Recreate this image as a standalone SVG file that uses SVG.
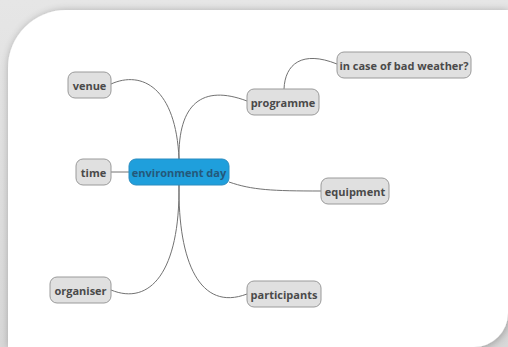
<svg xmlns="http://www.w3.org/2000/svg" width="508" height="347" viewBox="0 0 508 347">
<defs>
<linearGradient id="bg" x1="0" y1="0" x2="0" y2="1">
<stop offset="0" stop-color="#e6e6e6"/>
<stop offset="1" stop-color="#d8d8d8"/>
</linearGradient>
<filter id="sh" x="-10%" y="-10%" width="120%" height="120%">
<feGaussianBlur in="SourceAlpha" stdDeviation="4"/>
<feOffset dx="1" dy="1"/>
<feComponentTransfer><feFuncA type="linear" slope="0.3"/></feComponentTransfer>
<feMerge><feMergeNode/><feMergeNode in="SourceGraphic"/></feMerge>
</filter>
<style>
.n rect{fill:#e0e0e0;stroke:#9a9a9a;stroke-width:1}
.n text{font-family:"Open Sans","DejaVu Sans",sans-serif;font-weight:bold;font-size:11px;fill:#4a4a4a;text-anchor:middle;dominant-baseline:central}
#center rect{fill:#1f9fdc;stroke:#2a8cc0}
#center text{fill:#24587a}
.c path{fill:none;stroke:#727272;stroke-width:1}
</style>
</defs>
<rect width="508" height="347" fill="url(#bg)"/>
<path d="M8,68 A58,58 0 0 1 66,10 L508,10 L508,313 A34,34 0 0 1 474,347 L8,347 Z" fill="#ffffff" filter="url(#sh)"/>
<g class="c">
<path d="M111,84 C142,70 176,88 179,159"/>
<path d="M179,159 C178,104 202,84 247,101"/>
<path d="M111,172 L129,172"/>
<path d="M229,182 C252,190 272,191 321,191"/>
<path d="M179,185 C180,272 150,306 111,290"/>
<path d="M179,185 C178,262 200,312 247,294"/>
<path d="M284,89 C285,64 302,50 337,64"/>
</g>
<g id="venue" class="n"><rect x="68" y="72" width="43" height="26" rx="7"/><text x="89.5" y="85">venue</text></g>
<g id="time" class="n"><rect x="76" y="159" width="35" height="26" rx="7"/><text x="93.5" y="172">time</text></g>
<g id="center" class="n"><rect x="129" y="159" width="100" height="26" rx="7"/><text x="179" y="172">environment day</text></g>
<g id="programme" class="n"><rect x="247" y="89" width="72" height="26" rx="7"/><text x="283" y="102">programme</text></g>
<g id="weather" class="n"><rect x="337" y="52" width="134" height="26" rx="7"/><text x="404" y="65">in case of bad weather?</text></g>
<g id="equipment" class="n"><rect x="321" y="178" width="68" height="26" rx="7"/><text x="355" y="191">equipment</text></g>
<g id="organiser" class="n"><rect x="50" y="277" width="61" height="26" rx="7"/><text x="80.5" y="290">organiser</text></g>
<g id="participants" class="n"><rect x="247" y="281" width="74" height="26" rx="7"/><text x="284" y="294">participants</text></g>
</svg>
